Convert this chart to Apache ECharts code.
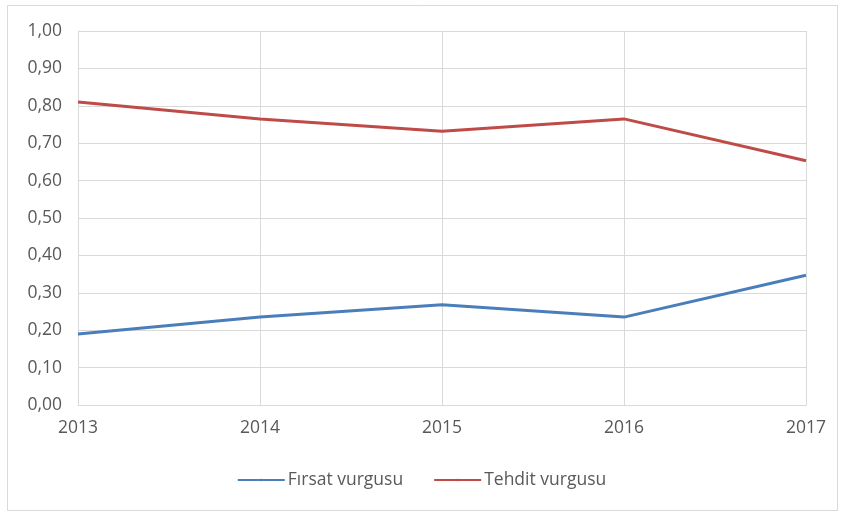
<!DOCTYPE html>
<html>
<head>
<meta charset="utf-8">
<script src="https://cdn.jsdelivr.net/npm/echarts@6/dist/echarts.min.js"></script>
<style>
  html, body { margin: 0; padding: 0; background: #fff; }
  #chart { width: 843px; height: 513px; }
</style>
</head>
<body>
<div id="chart"></div>
<script>
const years = ['2013', '2014', '2015', '2016', '2017'];
const firsat = [0.19, 0.235, 0.268, 0.235, 0.347];
const tehdit = [0.81, 0.765, 0.732, 0.765, 0.653];

const chart = echarts.init(document.getElementById('chart'));
const txt = '#595959';
const gridColor = '#d9d9d9';
const font = 'Open Sans';

chart.setOption({
  animation: false,
  graphic: [{
    type: 'rect',
    shape: { x: 7.5, y: 5.5, width: 830, height: 505 },
    style: { fill: 'none', stroke: '#d9d9d9', lineWidth: 1 }
  }],
  grid: { left: 78, right: 37, top: 31, bottom: 108 },
  xAxis: {
    type: 'category',
    data: years,
    boundaryGap: false,
    axisLine: { lineStyle: { color: gridColor } },
    axisTick: { show: false },
    axisLabel: { color: txt, fontSize: 17.5, fontFamily: font, margin: 14 },
    splitLine: { show: true, lineStyle: { color: gridColor } }
  },
  yAxis: {
    type: 'value',
    min: 0,
    max: 1,
    interval: 0.1,
    axisLine: { show: true, lineStyle: { color: gridColor } },
    axisTick: { show: false },
    axisLabel: {
      color: txt, fontSize: 17.5, fontFamily: font, margin: 16,
      formatter: v => v.toFixed(2).replace('.', ',')
    },
    splitLine: { lineStyle: { color: gridColor } }
  },
  legend: {
    bottom: 19,
    left: 'center',
    itemWidth: 47,
    itemHeight: 3,
    itemGap: 30,
    textStyle: { color: txt, fontSize: 17.5, fontFamily: font, padding: [0, 0, 0, -2] },
    data: ['Fırsat vurgusu', 'Tehdit vurgusu']
  },
  series: [
    {
      name: 'Fırsat vurgusu',
      type: 'line',
      data: firsat,
      symbol: 'none',
      color: '#4a7ebb',
      lineStyle: { color: '#4a7ebb', width: 3 }
    },
    {
      name: 'Tehdit vurgusu',
      type: 'line',
      data: tehdit,
      symbol: 'none',
      color: '#be4b48',
      lineStyle: { color: '#be4b48', width: 3 }
    }
  ]
});
</script>
</body>
</html>
